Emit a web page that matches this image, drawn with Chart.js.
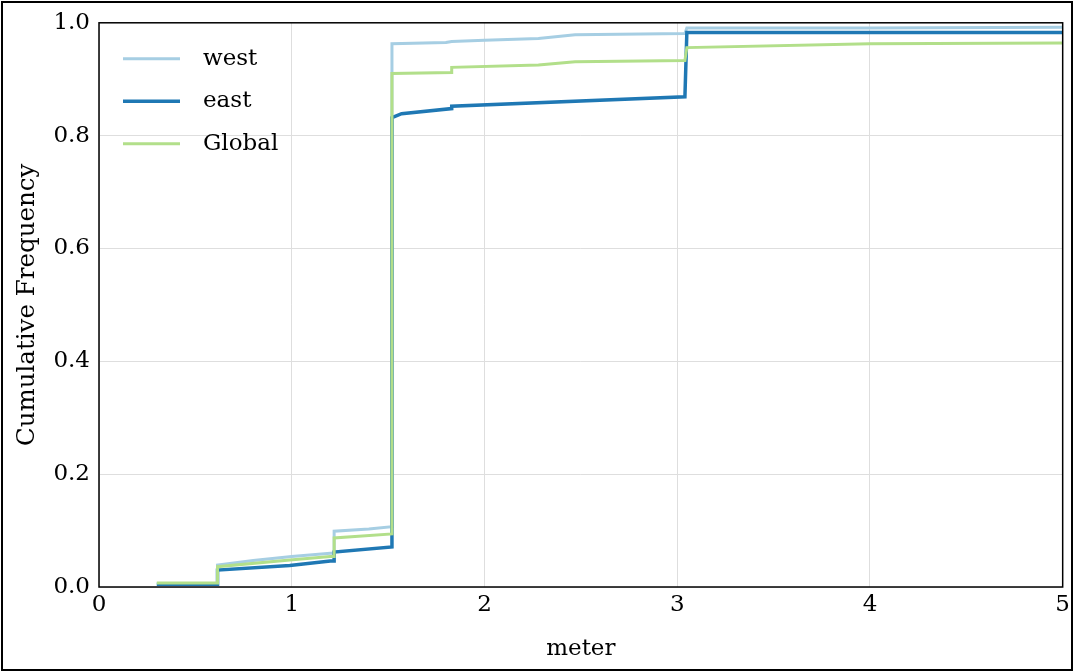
<!DOCTYPE html>
<html>
<head>
<meta charset="utf-8">
<script src="https://cdn.jsdelivr.net/npm/chart.js@4"></script>
<style>
  html, body { margin: 0; padding: 0; background: #fff; }
</style>
</head>
<body>
<canvas id="cdf" width="1074" height="672"></canvas>
<script>
"use strict";

const seriesNames = ["west", "east", "Global"];
const seriesColors = ["#a6cee3", "#1f78b4", "#b2df8a"];
const seriesWidths = [3, 3.5, 3];

// step points (x in meter, y cumulative frequency)
const westX = [0.30, 0.615, 0.615, 0.8, 1.0, 1.2, 1.22, 1.22, 1.4, 1.52, 1.52, 1.8, 1.83, 2.0, 2.28, 2.47, 3.04, 3.05, 4.0, 5.0];
const westY = [0.005, 0.005, 0.039, 0.047, 0.054, 0.060, 0.060, 0.099, 0.103, 0.107, 0.963, 0.965, 0.967, 0.969, 0.972, 0.979, 0.981, 0.991, 0.991, 0.992];

const eastX = [0.30, 0.615, 0.615, 0.99, 1.2, 1.22, 1.22, 1.52, 1.52, 1.57, 1.83, 1.83, 3.04, 3.05, 5.0];
const eastY = [0.005, 0.005, 0.030, 0.038, 0.046, 0.046, 0.062, 0.071, 0.832, 0.839, 0.848, 0.852, 0.869, 0.983, 0.983];

const globalX = [0.30, 0.615, 0.615, 0.99, 1.2, 1.22, 1.22, 1.52, 1.52, 1.83, 1.83, 2.28, 2.47, 3.04, 3.05, 4.0, 5.0];
const globalY = [0.007, 0.007, 0.036, 0.048, 0.054, 0.054, 0.087, 0.094, 0.910, 0.912, 0.921, 0.925, 0.931, 0.933, 0.956, 0.963, 0.964];

const xTicks = [0, 1, 2, 3, 4, 5];
const yTicks = [0, 0.2, 0.4, 0.6, 0.8, 1.0];

const allX = [westX, eastX, globalX];
const allY = [westY, eastY, globalY];

const serif = "'DejaVu Serif', serif";

function pts(xs, ys) {
    return xs.map((x, i) => ({ x: x, y: ys[i] }));
}

const datasets = seriesNames.map((name, i) => ({
    label: name,
    data: pts(allX[i], allY[i]),
    borderColor: seriesColors[i],
    backgroundColor: seriesColors[i],
    borderWidth: seriesWidths[i],
    pointRadius: 0,
    tension: 0,
    fill: false,
    order: 2 - i
}));

// plot frame + outer figure frame
const framePlugin = {
    id: "frame",
    afterDatasetsDraw(chart) {
        const { ctx, chartArea: a } = chart;
        ctx.save();
        ctx.strokeStyle = "#000";
        ctx.lineWidth = 1.5;
        ctx.strokeRect(a.left, a.top, a.right - a.left, a.bottom - a.top);
        ctx.lineWidth = 2;
        ctx.strokeRect(2, 2, chart.width - 4, chart.height - 4);
        ctx.restore();
    }
};

// legend inside the plot, top-left, line samples
const legendPlugin = {
    id: "innerLegend",
    afterDraw(chart) {
        const { ctx, chartArea: a } = chart;
        ctx.save();
        ctx.font = "23px " + serif;
        ctx.textBaseline = "middle";
        seriesNames.forEach((name, i) => {
            const y = a.top + 36 + i * 42.5;
            ctx.strokeStyle = seriesColors[i];
            ctx.lineWidth = seriesWidths[i];
            ctx.beginPath();
            ctx.moveTo(a.left + 24, y);
            ctx.lineTo(a.left + 81, y);
            ctx.stroke();
            ctx.fillStyle = "#000";
            ctx.fillText(name, a.left + 104, y);
        });
        ctx.restore();
    }
};

new Chart(document.getElementById("cdf"), {
    type: "line",
    data: { datasets: datasets },
    options: {
        responsive: false,
        animation: false,
        layout: { padding: { top: 22, right: 9, left: 0, bottom: 0 } },
        plugins: {
            legend: { display: false },
            tooltip: { enabled: false }
        },
        scales: {
            x: {
                type: "linear",
                min: 0,
                max: 5,
                afterBuildTicks: (s) => { s.ticks = xTicks.map(v => ({ value: v })); },
                afterFit: (s) => { s.height = 85; },
                ticks: {
                    color: "#000",
                    font: { family: serif, size: 23 },
                    padding: 4,
                    maxRotation: 0,
                    callback: (v) => String(v)
                },
                grid: { color: "#dedede", lineWidth: 1, drawTicks: false },
                border: { display: false },
                title: {
                    display: true,
                    text: "meter",
                    color: "#000",
                    font: { family: serif, size: 23 },
                    padding: { top: 0, bottom: 9 }
                }
            },
            y: {
                min: 0,
                max: 1,
                afterBuildTicks: (s) => { s.ticks = yTicks.map(v => ({ value: v })); },
                afterFit: (s) => { s.width = 99; },
                ticks: {
                    color: "#000",
                    font: { family: serif, size: 23 },
                    padding: 9,
                    callback: (v) => v.toFixed(1)
                },
                grid: { color: "#dedede", lineWidth: 1, drawTicks: false },
                border: { display: false },
                title: {
                    display: true,
                    text: "Cumulative Frequency",
                    color: "#000",
                    font: { family: serif, size: 24.5 },
                    padding: { top: 13, bottom: 0 }
                }
            }
        }
    },
    plugins: [framePlugin, legendPlugin]
});
</script>
</body>
</html>
